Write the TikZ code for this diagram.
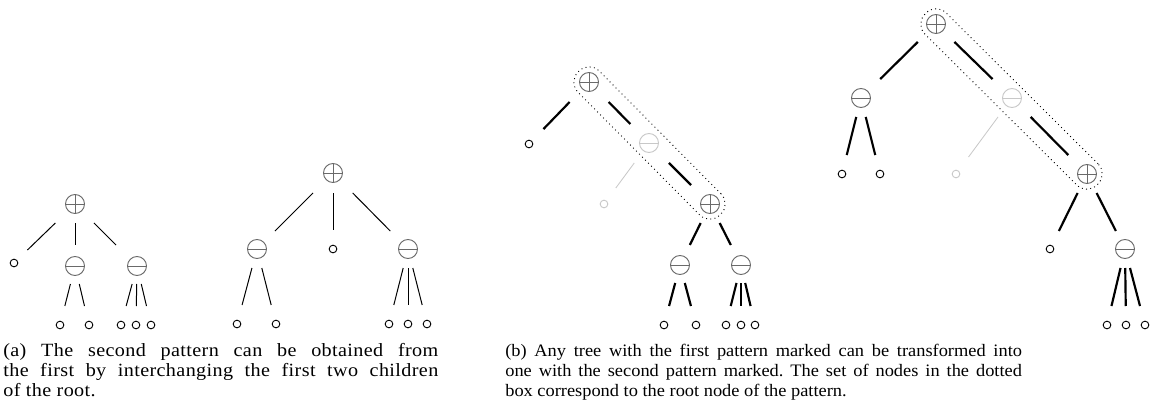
\documentclass[tikz,border=0pt]{standalone}
\usepackage{fontspec}
\setmainfont[FakeStretch=1.05]{Liberation Serif}
\newfontfamily\capafont[FakeStretch=1.08,LetterSpace=2]{Liberation Serif}
\usetikzlibrary{calc}
\definecolor{opgray}{HTML}{6A6A6A}
\definecolor{fadegray}{HTML}{C8C8C8}
\tikzset{
  x=0.6pt, y=-0.6pt,
  opnode/.style={circle, draw=#1, line width=0.55pt, minimum size=11.4pt, inner sep=0pt},
  plusop/.style={opnode=#1, path picture={\draw[#1, line width=0.55pt]
      (path picture bounding box.north) -- (path picture bounding box.south)
      (path picture bounding box.west) -- (path picture bounding box.east);}},
  plusop/.default=opgray,
  minusop/.style={opnode=#1, path picture={\draw[#1, line width=0.55pt]
      (path picture bounding box.west) -- (path picture bounding box.east);}},
  minusop/.default=opgray,
  leaf/.style={circle, draw=#1, line width=0.55pt, minimum size=4.6pt, inner sep=0pt},
  leaf/.default=black,
  thinedge/.style={line width=0.6pt},
  thickedge/.style={line width=1.3pt},
  fadeedge/.style={line width=0.5pt, draw=fadegray},
  dotbox/.style={draw, dotted, line width=0.55pt, rounded corners=8.5pt, minimum height=18pt, inner sep=0pt},
  caption/.style={anchor=north west, inner sep=0pt, align=justify}
}
% connector from node #2 to node #3, starting #4 px below #2 and ending #5 px above #3
\newcommand\conn[5]{\draw[#1] let \p1=(#2), \p2=(#3),
  \n1={0.6*#4*veclen(\x2-\x1,\y2-\y1)/(\y1-\y2)},
  \n2={0.6*#5*veclen(\x2-\x1,\y2-\y1)/(\y1-\y2)} in
  ($(#2)!\n1!(#3)$) -- ($(#3)!\n2!(#2)$);}
\newcommand\patbox[2]{\path let \p1=(#1), \p2=(#2), \n1={atan2(\y2-\y1,\x2-\x1)}, \n2={veclen(\x2-\x1,\y2-\y1)} in node[dotbox, rotate=\n1, minimum width=\n2+18pt] at ($(#1)!0.5!(#2)$) {};}
\begin{document}
\begin{tikzpicture}
\useasboundingbox (0,0) rectangle (1156,416);
% ---------- tree 1 ----------
\node[plusop] (r1) at (75,204) {};
\node[leaf] (l1) at (14,263) {};
\node[minusop] (m1) at (75,266) {};
\node[minusop] (n1) at (137,266) {};
\node[leaf] (m1a) at (60,325) {};
\node[leaf] (m1b) at (89,325) {};
\node[leaf] (n1a) at (121,325) {};
\node[leaf] (n1b) at (136,325) {};
\node[leaf] (n1c) at (151,325) {};
\conn{thinedge}{r1}{l1}{19}{13}
\conn{thinedge}{r1}{m1}{19}{21}
\conn{thinedge}{r1}{n1}{19}{21}
\conn{thinedge}{m1}{m1a}{18}{19}
\conn{thinedge}{m1}{m1b}{18}{19}
\conn{thinedge}{n1}{n1a}{18}{19}
\conn{thinedge}{n1}{n1b}{18}{19}
\conn{thinedge}{n1}{n1c}{18}{19}
% ---------- tree 2 ----------
\node[plusop] (r2) at (333,173) {};
\node[minusop] (a2) at (257,249) {};
\node[leaf] (b2) at (333,249) {};
\node[minusop] (c2) at (408,249) {};
\node[leaf] (a2a) at (237,324) {};
\node[leaf] (a2b) at (276,324) {};
\node[leaf] (c2a) at (389,324) {};
\node[leaf] (c2b) at (408,324) {};
\node[leaf] (c2c) at (427,324) {};
\conn{thinedge}{r2}{a2}{20}{18}
\conn{thinedge}{r2}{b2}{20}{19}
\conn{thinedge}{r2}{c2}{20}{18}
\conn{thinedge}{a2}{a2a}{19}{19}
\conn{thinedge}{a2}{a2b}{19}{19}
\conn{thinedge}{c2}{c2a}{19}{19}
\conn{thinedge}{c2}{c2b}{19}{19}
\conn{thinedge}{c2}{c2c}{19}{19}
% ---------- tree 3 ----------
\node[plusop] (t3) at (589,82) {};
\node[leaf] (o3) at (529,144) {};
\node[minusop=fadegray] (f3) at (649,143) {};
\node[leaf=fadegray] (fo3) at (604,204) {};
\node[plusop] (p3) at (710,204) {};
\node[minusop] (a3) at (680,265) {};
\node[minusop] (b3) at (741,265) {};
\node[leaf] (a3a) at (664,325) {};
\node[leaf] (a3b) at (696,325) {};
\node[leaf] (b3a) at (726,325) {};
\node[leaf] (b3b) at (741,325) {};
\node[leaf] (b3c) at (755,325) {};
\conn{thickedge}{t3}{o3}{20}{15}
\conn{thickedge}{t3}{f3}{20}{19}
\conn{fadeedge}{f3}{fo3}{20}{16}
\conn{thickedge}{f3}{p3}{20}{19}
\conn{thickedge}{p3}{a3}{19}{20}
\conn{thickedge}{p3}{b3}{19}{20}
\conn{thickedge}{a3}{a3a}{18}{19}
\conn{thickedge}{a3}{a3b}{18}{19}
\conn{thickedge}{b3}{b3a}{18}{19}
\conn{thickedge}{b3}{b3b}{18}{19}
\conn{thickedge}{b3}{b3c}{18}{19}
\patbox{t3}{p3}
% ---------- tree 4 ----------
\node[plusop] (t4) at (936,24) {};
\node[minusop] (a4) at (861,98) {};
\node[minusop=fadegray] (f4) at (1012,98) {};
\node[leaf] (a4a) at (842,174) {};
\node[leaf] (a4b) at (880,174) {};
\node[leaf=fadegray] (fo4) at (956,174) {};
\node[plusop] (p4) at (1087,174) {};
\node[leaf] (o4) at (1050,249) {};
\node[minusop] (b4) at (1125,249) {};
\node[leaf] (b4a) at (1107,325) {};
\node[leaf] (b4b) at (1126,325) {};
\node[leaf] (b4c) at (1145,325) {};
\conn{thickedge}{t4}{a4}{18}{19}
\conn{thickedge}{t4}{f4}{18}{19}
\conn{thickedge}{a4}{a4a}{19}{19}
\conn{thickedge}{a4}{a4b}{19}{19}
\conn{fadeedge}{f4}{fo4}{19}{17}
\conn{thickedge}{f4}{p4}{19}{19}
\conn{thickedge}{p4}{o4}{19}{18}
\conn{thickedge}{p4}{b4}{19}{18}
\conn{thickedge}{b4}{b4a}{19}{19}
\conn{thickedge}{b4}{b4b}{19}{19}
\conn{thickedge}{b4}{b4c}{19}{19}
\patbox{t4}{p4}
% ---------- captions ----------
\node[caption, text width=261pt, font=\capafont\fontsize{11.2}{12}\selectfont] (capa) at (3,343) {\frenchspacing\hyphenpenalty=10000 (a) The second pattern can be obtained from\linebreak the first by interchanging the first two children\linebreak of the root.};
\node[caption, text width=310pt, font=\fontsize{10.5}{12}\selectfont] (capb) at (505,344) {\frenchspacing\hyphenpenalty=10000 (b) Any tree with the first pattern marked can be transformed into\linebreak one with the second pattern marked. The set of nodes in the dotted\linebreak box correspond to the root node of the pattern.};
\end{tikzpicture}
\end{document}
